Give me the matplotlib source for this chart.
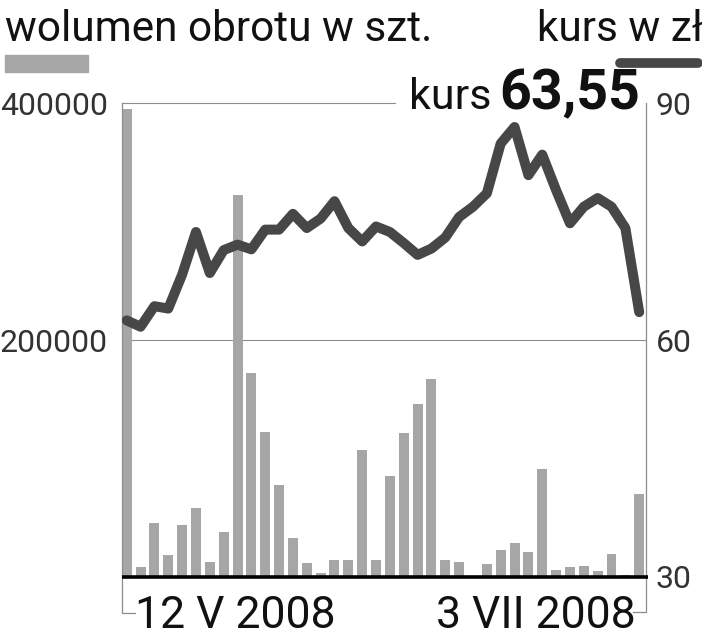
import matplotlib
matplotlib.use("Agg")
import matplotlib.pyplot as plt
import numpy as np

# wolumen (szt.) i kurs (zł), sesje od 12 V 2008 do 3 VII 2008
volume = [395000, 8200, 45900, 18600, 43900, 58000, 12900, 38300, 322800, 172500,
          122400, 77700, 33200, 11500, 3700, 14100, 14100, 107500, 14600, 85300,
          121900, 146100, 166900, 14100, 12900, 0, 11000, 22800, 28400, 21400,
          91500, 5900, 8200, 9300, 5100, 19700, 1500, 69800]
price = [62.5, 61.7, 64.3, 64.0, 68.3, 73.7, 68.5, 71.4, 72.1, 71.5,
         74.0, 74.0, 76.0, 74.2, 75.4, 77.6, 74.2, 72.5, 74.4, 73.7,
         72.3, 70.8, 71.6, 73.0, 75.6, 76.9, 78.6, 84.9, 87.0, 80.9,
         83.5, 79.0, 74.8, 76.9, 78.0, 76.9, 74.2, 63.55]
vol_ticks = [200000, 400000]
vol_labels = ["200000", "400000"]
price_ticks = [30, 60, 90]
price_labels = ["30", "60", "90"]
date_labels = ["12 V 2008", "3 VII 2008"]

BAR = "#a6a6a6"
LINE = "#474747"
GRID = "#8c8c8c"
W, H = 702, 640
font = ["Roboto", "DejaVu Sans"]

fig = plt.figure(figsize=(W / 100, H / 100), dpi=100)
ax = fig.add_axes([122 / W, 1 - 577 / H, 524 / W, 473.7 / H])
ax2 = ax.twinx()

x = np.arange(len(volume))
ax.bar(x, volume, width=0.72, color=BAR, zorder=2)
ax.set_xlim(-0.34, 37.49)
ax.set_ylim(0, 400000)
ax2.set_ylim(30, 90)
ax2.plot(x, price, color=LINE, lw=7.2, solid_capstyle="round",
         solid_joinstyle="round", zorder=3)

for a in (ax, ax2):
    for s in a.spines.values():
        s.set_visible(False)
    a.set_xticks([])

ax.set_yticks(vol_ticks)
ax.set_yticklabels(vol_labels, family=font, fontsize=23, color="#333333")
ax.tick_params(axis="y", length=0, pad=10)
ax2.set_yticks(price_ticks)
ax2.set_yticklabels(price_labels, family=font, fontsize=23, color="#333333")
ax2.tick_params(axis="y", length=0, pad=7)

# linie siatki i ramka
ax.axhline(200000, color=GRID, lw=0.8, zorder=1)
ax.plot([0, 0.521], [1, 1], transform=ax.transAxes, color=GRID, lw=0.8, clip_on=False)
ax.plot([0.025, 0, 0], [-0.076, -0.076, 1], transform=ax.transAxes,
        color=GRID, lw=0.9, clip_on=False)
ax.plot([0.975, 1, 1], [-0.073, -0.073, 1], transform=ax.transAxes,
        color=GRID, lw=0.9, clip_on=False)
ax.plot([0, 1.004], [0, 0], transform=ax.transAxes, color="black", lw=2.6,
        clip_on=False, zorder=5, solid_capstyle="butt")

# podpisy dat
fig.text(135 / W, 1 - 628 / H, date_labels[0], family=font, fontsize=32,
         ha="left", va="baseline", color="#111111")
fig.text(636 / W, 1 - 628 / H, date_labels[1], family=font, fontsize=32,
         ha="right", va="baseline", color="#111111")

# legenda
fig.text(5 / W, 1 - 41 / H, "wolumen obrotu w szt.", family=font, fontsize=30.5,
         ha="left", va="baseline", color="#111111")
fig.text(537 / W, 1 - 41 / H, "kurs w zł", family=font, fontsize=30.5,
         ha="left", va="baseline", color="#111111")
fig.patches.append(plt.Rectangle((5 / W, 1 - 72 / H), 83 / W, 17 / H,
                                 transform=fig.transFigure, color=BAR))
fig.add_artist(plt.Line2D([620 / W, 698 / W], [1 - 63 / H, 1 - 63 / H],
                          color=LINE, lw=7, solid_capstyle="round"))

# ostatni kurs
fig.text(491 / W, 1 - 109 / H, "kurs", family=font, fontsize=31,
         ha="right", va="baseline", color="#111111")
fig.text(499 / W, 1 - 109 / H, "63,55", family=font, fontsize=40,
         weight="bold", ha="left", va="baseline", color="#111111")

fig.savefig("out.png", dpi=100)
